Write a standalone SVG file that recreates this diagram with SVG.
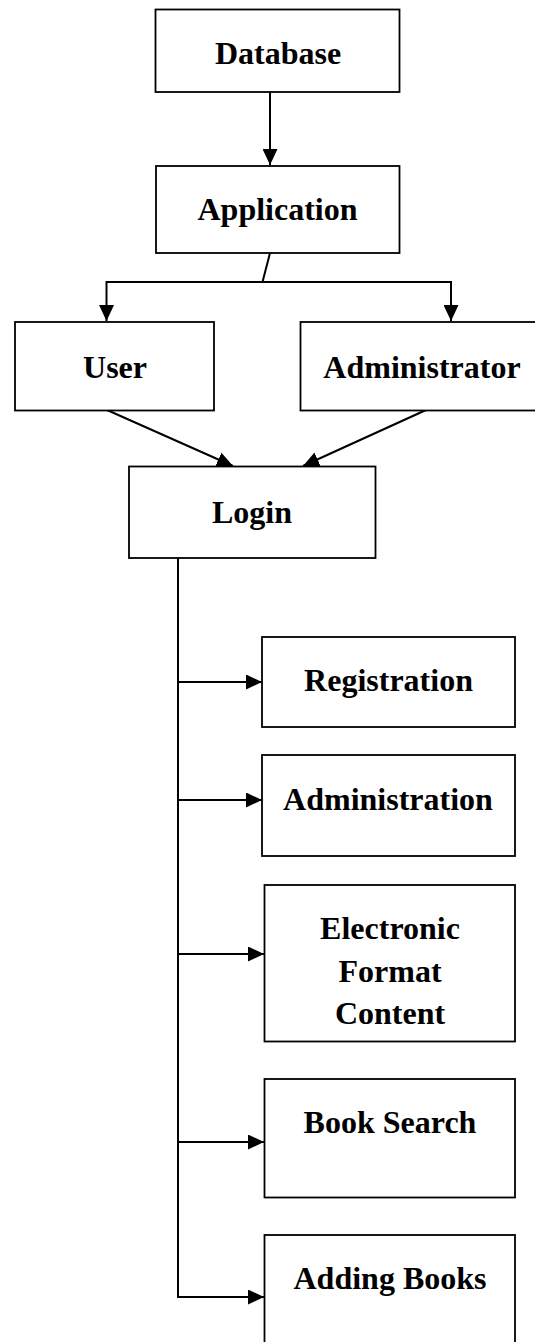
<svg xmlns="http://www.w3.org/2000/svg" width="535" height="1342" viewBox="0 0 535 1342">
<style>
.box{fill:#fff;stroke:#000;stroke-width:1.8}
.lbl{font-family:"Liberation Serif","Times New Roman",serif;font-weight:bold;font-size:32px;text-anchor:middle;fill:#000}
.ln{stroke:#000;stroke-width:2;fill:none}
</style>
<defs>
<marker id="ah" markerWidth="16" markerHeight="15" refX="16" refY="7.5" orient="auto" markerUnits="userSpaceOnUse">
<path d="M0,0 L16,7.5 L0,15 Z" fill="#000"/>
</marker>
</defs>
<rect width="535" height="1342" fill="#fff"/>
<g id="connectors">
<line class="ln" x1="270" y1="92" x2="270" y2="165" marker-end="url(#ah)"/>
<line class="ln" x1="270" y1="253" x2="262.5" y2="282"/>
<polyline class="ln" points="106.5,282 451,282 451,321" marker-end="url(#ah)"/>
<line class="ln" x1="106.5" y1="281" x2="106.5" y2="321" marker-end="url(#ah)"/>
<line class="ln" x1="107" y1="410" x2="233" y2="466" marker-end="url(#ah)"/>
<line class="ln" x1="426" y1="410" x2="303" y2="466" marker-end="url(#ah)"/>
<line class="ln" x1="178" y1="558" x2="178" y2="1297"/>
<line class="ln" x1="177" y1="682" x2="262" y2="682" marker-end="url(#ah)"/>
<line class="ln" x1="177" y1="800" x2="262" y2="800" marker-end="url(#ah)"/>
<line class="ln" x1="177" y1="954" x2="264" y2="954" marker-end="url(#ah)"/>
<line class="ln" x1="177" y1="1142" x2="264" y2="1142" marker-end="url(#ah)"/>
<line class="ln" x1="177" y1="1297" x2="264" y2="1297" marker-end="url(#ah)"/>
</g>
<g id="database"><rect class="box" x="155.5" y="9.5" width="244" height="82.5"/><text class="lbl" x="278" y="64">Database</text></g>
<g id="application"><rect class="box" x="156" y="166" width="243.5" height="87"/><text class="lbl" x="277.5" y="220">Application</text></g>
<g id="user"><rect class="box" x="15" y="322" width="199" height="88.5"/><text class="lbl" x="115" y="378">User</text></g>
<g id="administrator"><rect class="box" x="300.5" y="322" width="250" height="88.5"/><text class="lbl" x="422" y="378">Administrator</text></g>
<g id="login"><rect class="box" x="129" y="466.5" width="246.5" height="91.5"/><text class="lbl" x="252" y="523">Login</text></g>
<g id="registration"><rect class="box" x="262" y="637" width="253" height="90"/><text class="lbl" x="388.5" y="691">Registration</text></g>
<g id="administration"><rect class="box" x="262" y="755" width="253" height="101"/><text class="lbl" x="388" y="810">Administration</text></g>
<g id="electronic"><rect class="box" x="264.5" y="885" width="250.5" height="156.5"/><text class="lbl" x="390" y="939">Electronic</text><text class="lbl" x="390" y="981.5">Format</text><text class="lbl" x="390" y="1024">Content</text></g>
<g id="booksearch"><rect class="box" x="264.5" y="1079" width="250.5" height="118.5"/><text class="lbl" x="390" y="1133">Book Search</text></g>
<g id="addingbooks"><rect class="box" x="264.5" y="1235" width="250.5" height="120"/><text class="lbl" x="390" y="1289">Adding Books</text></g>
</svg>
